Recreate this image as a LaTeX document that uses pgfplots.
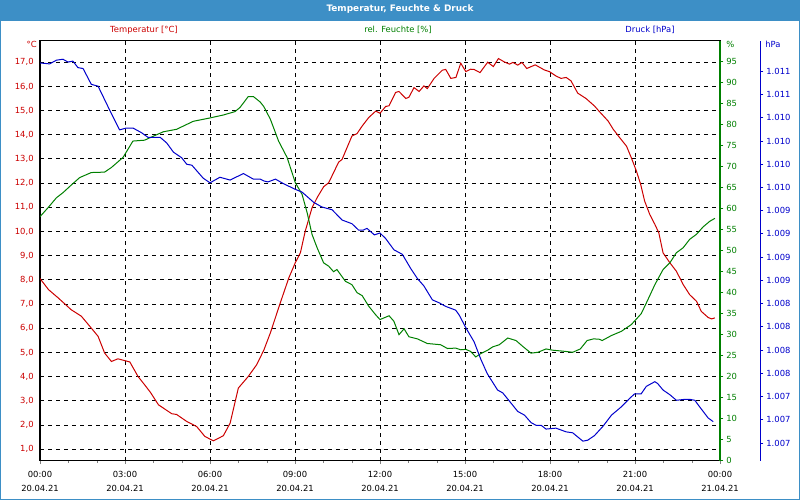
\documentclass[border=0pt]{standalone}
\usepackage{fontspec}
\setmainfont{DejaVu Sans}
\usepackage{pgfplots}
\pgfplotsset{compat=1.18}

\definecolor{tred}{RGB}{204,0,0}
\definecolor{hgreen}{RGB}{0,128,0}
\definecolor{pblue}{RGB}{0,0,204}
\definecolor{barblue}{RGB}{61,143,198}

% common frame for the three overlaid axes (1px = 0.75pt)
\pgfplotsset{
  base/.style={
    scale only axis, width=510pt, height=315pt,
    at={(30pt,29.5pt)}, anchor=south west,
    xmin=0, xmax=24,
    /pgf/number format/assume math mode=true,
    tick align=outside,
    major tick length=2.5pt, minor tick length=1.8pt,
  },
}

\begin{document}
\fontsize{6.3}{7.6}\selectfont
\begin{tikzpicture}[x=1pt,y=1pt,font=\fontsize{6.3}{7.6}\selectfont]
  % background, title bar, frame
  \fill[white] (0,0) rectangle (600,375);
  \fill[barblue] (0,359.5) rectangle (600,375);
  \draw[barblue,line width=0.75pt] (0.375,0.375) rectangle (599.625,374.625);
  \node[white,font=\fontsize{6.7}{8}\selectfont\bfseries] at (300,368) {Temperatur, Feuchte \& Druck};

  % series headers and units
  \node[tred]   at (108,352.5)   {Temperatur [°C]};
  \node[hgreen] at (298.5,352.5) {rel. Feuchte [\%]};
  \node[pblue]  at (487.5,352.5) {Druck [hPa]};
  \node[tred,anchor=east,inner sep=0pt]   at (27.75,341.5) {°C};
  \node[hgreen,anchor=west,inner sep=0pt] at (544.5,341.5) {\%};
  \node[pblue,anchor=west,inner sep=0pt]  at (573.75,341.5) {hPa};

  % temperature axis with grid
  \begin{axis}[base,
      ymin=0.53, ymax=17.89,
      axis line style={black,line width=0.75pt},
      xtick={0,3,...,24},
      minor xtick={1,2,4,5,7,8,10,11,13,14,16,17,19,20,22,23},
      xtick pos=left,
      xticklabels={{00:00\\20.04.21},{03:00\\20.04.21},{06:00\\20.04.21},{09:00\\20.04.21},
                   {12:00\\20.04.21},{15:00\\20.04.21},{18:00\\20.04.21},{21:00\\20.04.21},{00:00\\21.04.21}},
      xticklabel style={align=center,text=black,yshift=-3pt,font=\fontsize{6.3}{10.8}\selectfont},
      ytick={1,...,17},
      ytick style={draw=none},
      yticklabel style={text=tred,/pgf/number format/fixed,/pgf/number format/fixed zerofill,
                        /pgf/number format/precision=1,/pgf/number format/use comma},
      grid=major,
      major grid style={black,line width=0.75pt,dash pattern=on 3pt off 3pt},
    ]
    \addplot[tred,line width=0.75pt] coordinates {
      (0,8.06) (0.3,7.6) (0.64,7.26) (1.1,6.77) (1.46,6.5) (1.81,6.01) (2.05,5.67) (2.28,4.98)
      (2.52,4.63) (2.75,4.74) (3.17,4.61) (3.46,4.01) (3.69,3.67) (3.9,3.35) (4.18,2.84) (4.65,2.47)
      (4.82,2.44) (5.18,2.15) (5.53,1.94) (5.82,1.53) (6.12,1.35) (6.47,1.56) (6.71,2.08) (7.0,3.53)
      (7.35,4.01) (7.65,4.5) (7.9,5.1) (8.13,5.81) (8.48,7.05) (8.78,8.08) (9.01,8.71) (9.19,9.12)
      (9.36,10.01) (9.6,10.98) (9.78,11.4) (10.01,11.85) (10.19,12.02) (10.54,12.87) (10.66,12.98)
      (11.01,13.95) (11.19,14.05) (11.37,14.36) (11.6,14.71) (11.85,14.98) (12.0,14.89) (12.2,15.17)
      (12.32,15.2) (12.55,15.75) (12.67,15.79) (12.91,15.5) (13.02,15.55) (13.2,15.95) (13.38,15.79)
      (13.55,16.02) (13.67,15.91) (13.91,16.33) (14.02,16.46) (14.2,16.67) (14.32,16.7) (14.5,16.33)
      (14.68,16.37) (14.85,16.96) (15.03,16.61) (15.2,16.71) (15.32,16.7) (15.53,16.57) (15.8,17.0)
      (16.0,16.82) (16.18,17.15) (16.39,17.01) (16.57,16.92) (16.69,16.99) (16.86,16.88) (17.01,16.99)
      (17.18,16.74) (17.48,16.89) (17.8,16.68) (17.98,16.61) (18.21,16.43) (18.39,16.33) (18.57,16.37)
      (18.74,16.23) (18.98,15.72) (19.27,15.5) (19.57,15.19) (19.75,14.95) (20.05,14.57) (20.23,14.23)
      (20.46,13.88) (20.7,13.53) (20.87,13.05) (21.05,12.5) (21.2,11.95) (21.34,11.26) (21.52,10.71)
      (21.7,10.3) (21.84,9.95) (21.99,9.12) (22.23,8.71) (22.46,8.36) (22.7,7.81) (22.93,7.39)
      (23.17,7.12) (23.34,6.7) (23.58,6.45) (23.7,6.39) (23.82,6.43)
    };
  \end{axis}

  % humidity axis (green, right)
  \begin{axis}[base,
      ymin=0, ymax=100,
      axis x line=none, xtick=\empty,
      axis y line*=right,
      y axis line style={hgreen,line width=1.5pt},
      ytick={0,5,...,95},
      ytick style={hgreen,line width=0.75pt},
      yticklabel style={text=hgreen},
    ]
    \addplot[hgreen,line width=0.75pt] coordinates {
      (0,58.1) (0.28,60.2) (0.58,62.6) (0.81,63.8) (1.1,65.6) (1.4,67.4) (1.81,68.6) (2.28,68.7)
      (2.52,69.8) (2.93,72.2) (3.11,74.2) (3.28,76.1) (3.69,76.3) (3.95,77.1) (4.35,78.3) (4.82,78.9)
      (5.41,80.8) (6.0,81.6) (6.47,82.3) (6.88,83.1) (7.06,84.1) (7.35,86.7) (7.53,86.7) (7.77,85.4)
      (7.9,84.3) (8.13,81.3) (8.42,76.1) (8.72,72.2) (9.01,66.2) (9.25,63.4) (9.43,59.0) (9.6,53.9)
      (9.78,50.7) (10.01,47.1) (10.19,46.3) (10.36,45.0) (10.48,45.5) (10.78,42.7) (11.01,41.9)
      (11.19,40.0) (11.37,39.3) (11.6,36.8) (11.85,34.7) (12.0,33.6) (12.32,34.5) (12.49,33.2)
      (12.67,30.0) (12.85,31.4) (13.02,29.5) (13.32,29.0) (13.67,27.9) (14.14,27.6) (14.38,26.7)
      (14.67,26.8) (14.85,26.4) (15.03,26.5) (15.2,26.0) (15.38,24.7) (15.56,25.5) (15.8,26.3)
      (15.98,27.1) (16.21,27.6) (16.51,29.2) (16.8,28.6) (17.04,27.2) (17.33,25.6) (17.57,25.8)
      (17.86,26.6) (18.1,26.3) (18.57,26.0) (18.8,25.8) (19.07,26.6) (19.31,28.6) (19.54,29.0)
      (19.75,28.9) (19.84,28.6) (20.17,29.8) (20.52,30.8) (20.87,32.4) (21.22,35.0) (21.46,38.4)
      (21.7,41.9) (21.99,45.5) (22.23,47.1) (22.46,49.5) (22.7,50.7) (22.93,52.7) (23.17,53.9)
      (23.41,55.7) (23.64,57.0) (23.82,57.7)
    };
  \end{axis}

  % pressure axis (blue, shifted right)
  \begin{axis}[base,
      ymin=1007.06, ymax=1011.58,
      axis x line=none, xtick=\empty,
      axis y line*=right,
      y axis line style={pblue,line width=0.75pt,xshift=30pt},
      ytick style={pblue,line width=0.75pt,xshift=30pt},
      yticklabel style={text=pblue,xshift=30pt},
      ytick={1007.25,1007.5,1007.75,1008,1008.25,1008.5,1008.75,1009,1009.25,1009.5,1009.75,
             1010,1010.25,1010.5,1010.75,1011,1011.25},
      yticklabels={1.007,1.007,1.007,1.008,1.008,1.008,1.008,1.009,1.009,1.009,1.009,
                   1.010,1.010,1.010,1.010,1.011,1.011},
    ]
    \addplot[pblue,line width=0.75pt] coordinates {
      (0,1011.34) (0.34,1011.33) (0.58,1011.37) (0.81,1011.38) (0.99,1011.35) (1.16,1011.36)
      (1.34,1011.29) (1.52,1011.28) (1.81,1011.11) (2.05,1011.09) (2.4,1010.87) (2.81,1010.62)
      (3.05,1010.64) (3.28,1010.64) (3.58,1010.59) (3.81,1010.54) (4.24,1010.54) (4.47,1010.48)
      (4.71,1010.38) (5.0,1010.32) (5.18,1010.25) (5.36,1010.24) (5.76,1010.1) (6.0,1010.05)
      (6.35,1010.11) (6.71,1010.08) (7.18,1010.15) (7.53,1010.09) (7.77,1010.09) (7.9,1010.07)
      (8.05,1010.06) (8.31,1010.09) (8.6,1010.04) (9.01,1009.98) (9.25,1009.95) (9.66,1009.84)
      (9.95,1009.79) (10.31,1009.76) (10.66,1009.65) (11.01,1009.61) (11.25,1009.54) (11.4,1009.54)
      (11.54,1009.56) (11.8,1009.49) (12.0,1009.51) (12.2,1009.45) (12.49,1009.33) (12.79,1009.28)
      (13.08,1009.13) (13.32,1009.02) (13.55,1008.94) (13.85,1008.79) (14.08,1008.76) (14.32,1008.72)
      (14.67,1008.68) (14.79,1008.63) (15.03,1008.49) (15.32,1008.34) (15.56,1008.15) (15.78,1008.0)
      (15.86,1007.96) (16.15,1007.82) (16.33,1007.79) (16.57,1007.7) (16.86,1007.59) (17.1,1007.55)
      (17.33,1007.47) (17.51,1007.44) (17.69,1007.44) (17.86,1007.4) (18.21,1007.41) (18.57,1007.37)
      (18.8,1007.36) (19.16,1007.27) (19.33,1007.28) (19.57,1007.33) (19.75,1007.39) (19.87,1007.43)
      (20.17,1007.55) (20.52,1007.64) (20.81,1007.73) (20.99,1007.78) (21.22,1007.78) (21.4,1007.86)
      (21.7,1007.91) (21.8,1007.89) (21.99,1007.82) (22.23,1007.77) (22.46,1007.71) (22.76,1007.72)
      (22.93,1007.72) (23.11,1007.71) (23.28,1007.64) (23.58,1007.52) (23.76,1007.48)
    };
  \end{axis}
\end{tikzpicture}
\end{document}
